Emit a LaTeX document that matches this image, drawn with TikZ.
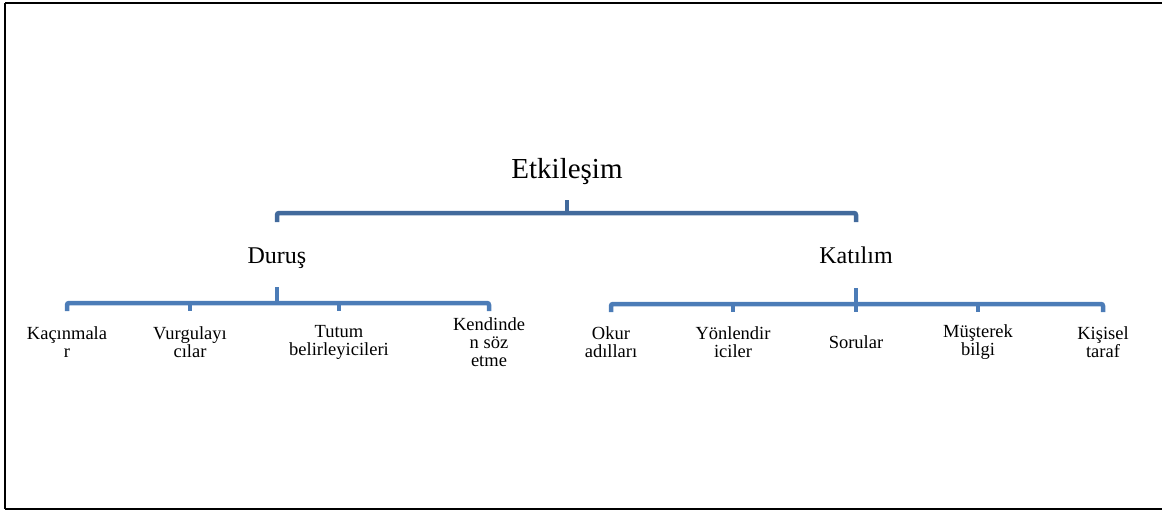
\documentclass[tikz,border=0pt]{standalone}
\usepackage{fontspec}
\setmainfont{Liberation Serif}
\definecolor{barblue}{RGB}{66,106,156}
\definecolor{subblue}{RGB}{76,124,183}
\begin{document}
\begin{tikzpicture}[x=1pt,y=-1pt,
  frameline/.style={black,line width=2.5pt},
  bar/.style={line width=4.5pt,rounded corners=2pt},
  rootlabel/.style={font=\fontsize{29}{34}\selectfont,anchor=base,inner sep=0pt},
  grouplabel/.style={font=\fontsize{24}{28}\selectfont,anchor=base,inner sep=0pt},
  leaflabel/.style={font=\fontsize{18.5}{18}\selectfont,align=center,inner sep=0pt}]
\useasboundingbox (0,0) rectangle (1162,512);
\draw[frameline] (1162,3) -- (5,3);
\draw[black,line width=1.5pt] (5,3) -- (5,509);
\draw[frameline] (5,509) -- (1162,509);
\node[rootlabel] (etk) at (567,178) {Etkileşim};
\node[grouplabel] (durus) at (277,263) {Duruş};
\node[grouplabel] (katilim) at (856,263) {Katılım};
\node[leaflabel] (kac) at (67,342) {Kaçınmala\\r};
\node[leaflabel] (vur) at (190,342) {Vurgulayı\\cılar};
\node[leaflabel] (tut) at (339,342) {Tutum\\belirleyicileri};
\node[leaflabel] (ken) at (489,342) {Kendinde\\n söz\\etme};
\node[leaflabel] (oku) at (611,342) {Okur\\adılları};
\node[leaflabel] (yon) at (733,342) {Yönlendir\\iciler};
\node[leaflabel] (sor) at (856,342) {Sorular};
\node[leaflabel] (mus) at (978,342) {Müşterek\\bilgi};
\node[leaflabel] (kis) at (1103,342) {Kişisel\\taraf};
\coordinate (etkbar) at (567,213);
\coordinate (durbar) at (277,303);
\coordinate (katbar) at (856,304);
\draw[bar,barblue] (etk.base) ++(0,22) -- (etkbar);
\draw[bar,barblue] (durus.north |- etkbar) ++(0,9) -- ++(0,-9) -- (katilim.north |- etkbar) -- ++(0,9);
\draw[bar,subblue] (durus.base) ++(0,24) -- (durbar);
\draw[bar,subblue] (kac.north |- durbar) ++(0,8) -- ++(0,-8) -- (ken.north |- durbar) -- ++(0,8);
\foreach \n in {vur,tut}
  \draw[bar,subblue] (\n.north |- durbar) -- ++(0,8);
\draw[bar,subblue] (katilim.base) ++(0,25) -- (katbar);
\draw[bar,subblue] (oku.north |- katbar) ++(0,8) -- ++(0,-8) -- (kis.north |- katbar) -- ++(0,8);
\foreach \n in {yon,sor,mus}
  \draw[bar,subblue] (\n.north |- katbar) -- ++(0,8);
\end{tikzpicture}
\end{document}
